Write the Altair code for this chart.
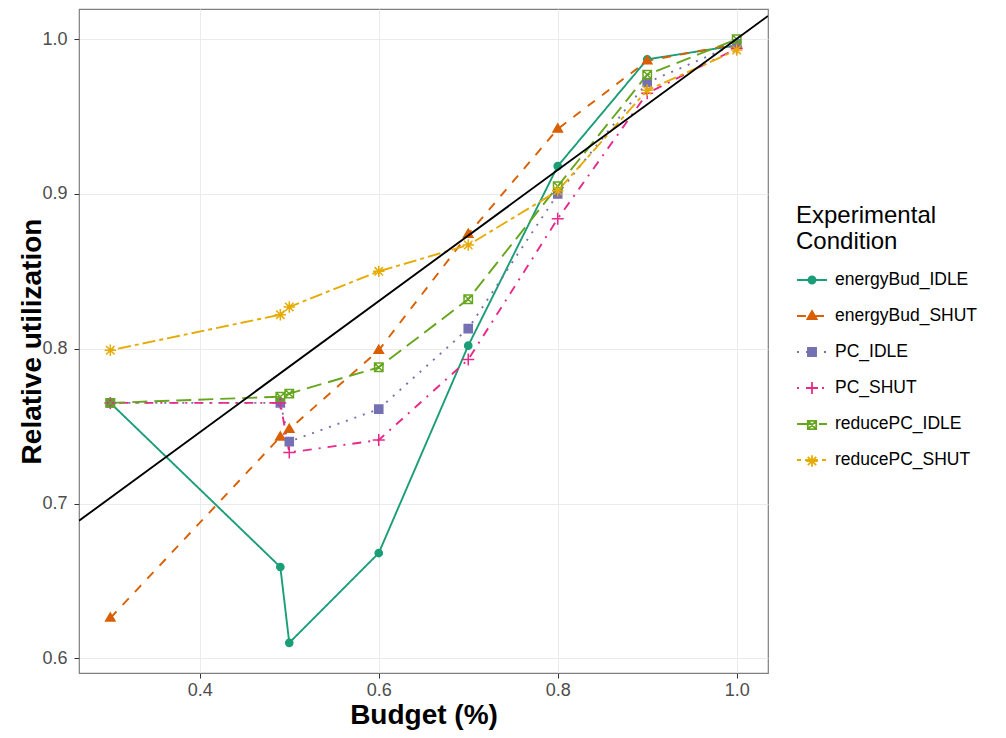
import altair as alt
import pandas as pd

# ---- data ----
budget = [0.3, 0.49, 0.5, 0.6, 0.7, 0.8, 0.9, 1.0]
conditions = ["energyBud_IDLE", "energyBud_SHUT", "PC_IDLE", "PC_SHUT",
              "reducePC_IDLE", "reducePC_SHUT"]
energyBud_IDLE = [0.765, 0.659, 0.610, 0.668, 0.802, 0.918, 0.987, 0.996]
energyBud_SHUT = [0.626, 0.743, 0.748, 0.799, 0.874, 0.942, 0.986, 0.997]
PC_IDLE = [0.765, 0.765, 0.740, 0.761, 0.813, 0.900, 0.972, 0.997]
PC_SHUT = [0.765, 0.765, 0.733, 0.741, 0.793, 0.884, 0.965, 0.994]
reducePC_IDLE = [0.765, 0.769, 0.771, 0.788, 0.832, 0.905, 0.977, 1.000]
reducePC_SHUT = [0.799, 0.822, 0.827, 0.850, 0.867, 0.902, 0.967, 0.993]
series = [energyBud_IDLE, energyBud_SHUT, PC_IDLE, PC_SHUT, reducePC_IDLE, reducePC_SHUT]

abline_intercept = 0.5766
abline_slope = 0.4236

x_ticks = [0.4, 0.6, 0.8, 1.0]
y_ticks = [0.6, 0.7, 0.8, 0.9, 1.0]
x_domain = [0.265, 1.035]
y_domain = [0.5905, 1.0195]

# ---- styles ----
colors = ["#1B9E77", "#D95F02", "#7570B3", "#E7298A", "#66A61E", "#E6AB02"]
fills = ["#1B9E77", "#D95F02", "#7570B3", "transparent", "transparent", "transparent"]
dashes = [[1, 0], [9, 9], [2, 7], [2, 7, 9, 7], [15, 7], [4, 4, 13, 4]]
shapes = [
    "M0.24,0A0.24,0.24,0,1,1,-0.24,0A0.24,0.24,0,1,1,0.24,0Z",
    "M0,-0.33L0.31,0.2L-0.31,0.2Z",
    "M-0.27,-0.27H0.27V0.27H-0.27Z",
    "M-0.4,0H0.4M0,-0.4V0.4",
    "M-0.28,-0.28H0.28V0.28H-0.28ZM-0.28,-0.28L0.28,0.28M-0.28,0.28L0.28,-0.28",
    "M-0.38,0H0.38M0,-0.38V0.38M-0.28,-0.28L0.28,0.28M-0.28,0.28L0.28,-0.28",
]

# marker-legend keys (distinct domain so the marker legend is not merged with the line legend)
marker_keys = [c + " " for c in conditions]

rows = []
for name, key, vals in zip(conditions, marker_keys, series):
    for b, v in zip(budget, vals):
        rows.append({"budget": b, "util": v, "cond": name, "cond2": key})
df = pd.DataFrame(rows)

ab = pd.DataFrame({
    "budget": x_domain,
    "util": [abline_intercept + abline_slope * xv for xv in x_domain],
})

FONT = "Liberation Sans"

xenc = alt.X("budget:Q",
             scale=alt.Scale(domain=x_domain, nice=False, zero=False),
             axis=alt.Axis(values=x_ticks, format=".1f", title="Budget (%)",
                           titleY=50, titleBaseline="alphabetic",
                           labelPadding=3))
yenc = alt.Y("util:Q",
             scale=alt.Scale(domain=y_domain, nice=False, zero=False),
             axis=alt.Axis(values=y_ticks, format=".1f", title="Relative utilization",
                           titleX=-39, titleBaseline="alphabetic",
                           labelPadding=7))

common_leg = dict(
    title=["Experimental", "Condition"], orient="none", legendX=717, legendY=195,
    symbolSize=900, labelFontSize=17.5, titleFontSize=24, titleFontWeight="normal",
    titleLineHeight=26, titlePadding=10, rowPadding=11, labelOffset=7, padding=0,
    labelFont=FONT, titleFont=FONT, symbolStrokeWidth=1.8,
)
leg1 = alt.Legend(symbolType="stroke",
                  labelColor="black", titleColor="black", **common_leg)
leg2 = alt.Legend(labelColor="transparent", titleColor="transparent", **common_leg)

lines = alt.Chart(df).mark_line(strokeWidth=1.9).encode(
    x=xenc, y=yenc,
    color=alt.Color("cond:N", scale=alt.Scale(domain=conditions, range=colors), legend=leg1),
    strokeDash=alt.StrokeDash("cond:N", scale=alt.Scale(domain=conditions, range=dashes), legend=leg1),
)

points = alt.Chart(df).mark_point(size=900, strokeWidth=1.5, opacity=1).encode(
    x=xenc, y=yenc,
    fill=alt.Fill("cond2:N", scale=alt.Scale(domain=marker_keys, range=fills), legend=leg2),
    stroke=alt.Stroke("cond2:N", scale=alt.Scale(domain=marker_keys, range=colors), legend=leg2),
    shape=alt.Shape("cond2:N", scale=alt.Scale(domain=marker_keys, range=shapes), legend=leg2),
)

abline = alt.Chart(ab).mark_line(color="black", strokeWidth=1.9, clip=True).encode(
    x=xenc, y=yenc,
)

chart = alt.layer(lines, points, abline).properties(
    width=689, height=664,
    autosize=alt.AutoSizeParams(type="none"),
    padding={"left": 71, "top": 1, "right": 229, "bottom": 57},
).configure_view(
    stroke="#7F7F7F", strokeWidth=1.2,
).configure_axis(
    grid=True, gridColor="#EBEBEB", gridWidth=1, domain=False,
    tickColor="#333333", tickSize=5, labelColor="#4D4D4D", labelFontSize=18,
    titleFontSize=28, titleFontWeight="bold", titleColor="black",
    labelFont=FONT, titleFont=FONT,
)

chart.save("out.html", embed_options={"renderer": "svg", "actions": False})
